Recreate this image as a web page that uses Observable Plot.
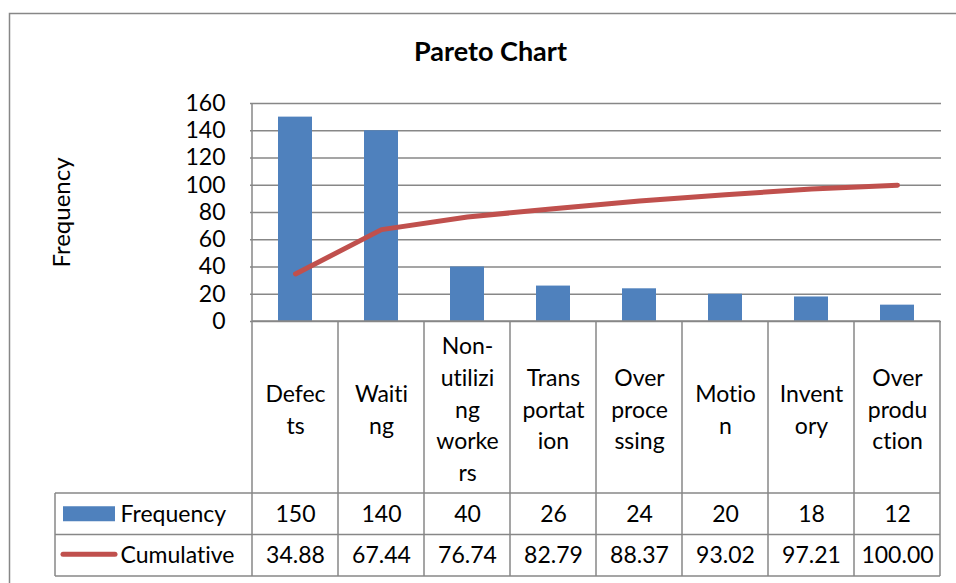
<!DOCTYPE html>
<html><head><meta charset="utf-8">
<script src="https://cdn.jsdelivr.net/npm/d3@7"></script>
<script src="https://cdn.jsdelivr.net/npm/@observablehq/plot@0.6"></script>
<style>
html,body{margin:0;padding:0;background:#fff;}
#chart svg{display:block;font-variant-ligatures:none;}
</style>
</head><body><div id="chart"></div>
<script>
const categories = ["Defects","Waiting","Non-utilizing workers","Transportation","Over processing","Motion","Inventory","Over production"];
const categoryLines = [["Defec","ts"],["Waiti","ng"],["Non-","utilizi","ng","worke","rs"],["Trans","portat","ion"],["Over","proce","ssing"],["Motio","n"],["Invent","ory"],["Over","produ","ction"]];
const frequency = [150,140,40,26,24,20,18,12];
const cumulative = [34.88,67.44,76.74,82.79,88.37,93.02,97.21,100.00];
const yTicks = [0,20,40,60,80,100,120,140,160];
const seriesNames = ["Frequency","Cumulative"];
const titleText = "Pareto Chart";
const yLabel = "Frequency";

const data = categories.map((c,i)=>({cat:c, label: categoryLines[i].join("\n"), freq: frequency[i], cum: cumulative[i]}));

const W=956,H=583, mL=250, mR=15, mT=103, mB=262;
const FONT = "Lato, 'Open Sans', sans-serif";
const GRID = "#878787";
const BLUE="#4F81BD", RED="#C0504D";
const headerH = 172, rowH = 41.5;
const legendLeft = 55;

const plot = Plot.plot({
  width: W, height: H, marginLeft: mL, marginRight: mR, marginTop: mT, marginBottom: mB,
  style: {fontFamily: FONT, fontSize: "23px", color: "#000", background: "#fff", overflow: "visible"},
  x: {domain: categories, padding: 0, axis: null},
  y: {domain: [0,160], axis: null},
  marks: [
    Plot.gridY(yTicks, {stroke: GRID, strokeOpacity: 1, strokeWidth: 1.5}),
    Plot.barY(data, {x:"cat", y:"freq", fill: BLUE, insetLeft: 26, insetRight: 26}),
    Plot.lineY(data, {x:"cat", y:"cum", stroke: RED, strokeWidth: 5, strokeLinecap:"round", strokeLinejoin:"round"}),
    Plot.axisY(yTicks, {tickSize:0, tickPadding: 25, label: null, fontSize: 23}),
    Plot.text(data, {x:"cat", text:"label", frameAnchor:"bottom", dy: headerH/2, lineAnchor:"middle", lineHeight: 1.38, fontSize: 23}),
    Plot.text(data, {x:"cat", text: d=>String(d.freq), frameAnchor:"bottom", dy: headerH+rowH/2, lineAnchor:"middle", fontSize: 23}),
    Plot.text(data, {x:"cat", text: d=>d.cum.toFixed(2), frameAnchor:"bottom", dy: headerH+rowH*1.5, lineAnchor:"middle", fontSize: 23}),
    Plot.text([titleText], {text: d=>d, frameAnchor:"top-left", dx: 490-mL, dy: -51, textAnchor:"middle", lineAnchor:"middle", fontWeight:"bold", fontSize: 27}),
    Plot.text([yLabel], {text: d=>d, frameAnchor:"left", dx: 62-mL, rotate: -90, textAnchor:"middle", lineAnchor:"middle", fontSize: 24}),
    Plot.text([seriesNames[0]], {text: d=>d, frameAnchor:"bottom-left", dx: 120-mL, dy: headerH+rowH/2, textAnchor:"start", lineAnchor:"middle", fontSize: 23}),
    Plot.text([seriesNames[1]], {text: d=>d, frameAnchor:"bottom-left", dx: 120-mL, dy: headerH+rowH*1.5, textAnchor:"start", lineAnchor:"middle", fontSize: 23})
  ]
});

// table grid, legend keys and chart border, placed with the plot's own x scale
const sx = plot.scale("x");
const bw = sx.bandwidth;
const x0 = sx.apply(categories[0]);
const edges = categories.map(c=>sx.apply(c)).concat([sx.apply(categories[categories.length-1])+bw]);
const yBase = H - mB;
const yHead = yBase + headerH, yRow1 = yHead + rowH, yRow2 = yRow1 + rowH;
const svg = d3.select(plot);
const lines = [];
edges.forEach((x,i)=>lines.push([x, i===0 ? mT : yBase, x, yRow2]));
lines.push([x0, yBase, edges[edges.length-1], yBase]);
[yHead, yRow1, yRow2].forEach(y=>lines.push([legendLeft, y, edges[edges.length-1], y]));
lines.push([legendLeft, yHead, legendLeft, yRow2]);
const tg = svg.append("g").attr("stroke", GRID).attr("stroke-width", 1.5).attr("fill","none");
lines.forEach(([a,b,c,d])=>tg.append("line").attr("x1",a).attr("y1",b).attr("x2",c).attr("y2",d));
// chart outer border
svg.append("path").attr("d", `M9.5,${H+5}V13.5H${W+5}`).attr("stroke", GRID).attr("stroke-width",1.5).attr("fill","none");
// legend keys
svg.append("rect").attr("x", 63).attr("y", yHead + rowH/2 - 7.5).attr("width", 52).attr("height", 15).attr("fill", BLUE);
svg.append("line").attr("x1", 63).attr("x2", 115).attr("y1", yRow1 + rowH/2 - 1).attr("y2", yRow1 + rowH/2 - 1)
  .attr("stroke", RED).attr("stroke-width", 5).attr("stroke-linecap","round");

document.getElementById("chart").appendChild(plot);
</script>
</body></html>
